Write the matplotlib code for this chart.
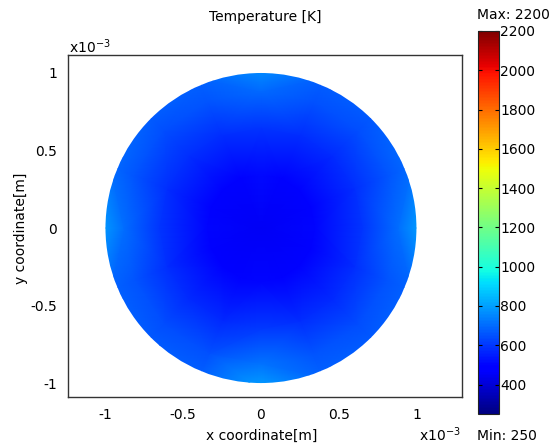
import numpy as np
import matplotlib.pyplot as plt
import matplotlib.tri as mtri
from matplotlib.patches import Circle

plt.rcParams['font.family'] = 'DejaVu Sans'
plt.rcParams['axes.unicode_minus'] = False

# temperature samples [K] on rings of the disk (radius in mm), 16 directions
# counter-clockwise from +x
ring_radius = [0.35, 0.65, 0.88, 1.05]
ring_angle = np.arange(16) * 22.5
T_center = 450
T_rings = [
    [505, 500, 495, 500, 510, 500, 495, 500, 505, 495, 490, 495, 505, 495, 495, 500],
    [595, 585, 575, 580, 595, 585, 580, 585, 595, 580, 570, 575, 605, 580, 575, 585],
    [705, 660, 640, 650, 695, 655, 645, 660, 705, 655, 640, 650, 715, 655, 640, 660],
    [820, 700, 670, 680, 780, 690, 680, 700, 810, 690, 670, 680, 810, 690, 670, 690],
]
T_min, T_max = 250, 2200
cbar_ticks = [400, 600, 800, 1000, 1200, 1400, 1600, 1800, 2000, 2200]
xticks = [-1, -0.5, 0, 0.5, 1]
yticks = [-1, -0.5, 0, 0.5, 1]

# build mesh nodes
px, py, pT = [0.0], [0.0], [T_center]
th = np.deg2rad(ring_angle)
for r, vals in zip(ring_radius, T_rings):
    px.extend(r * np.cos(th))
    py.extend(r * np.sin(th))
    pT.extend(vals)
tri = mtri.Triangulation(px, py)

W, H = 559, 447
FS = 10
fig = plt.figure(figsize=(W / 100, H / 100), dpi=100)
ax = fig.add_axes([68 / W, 1 - 397 / H, 394 / W, 342 / H])
tp = ax.tripcolor(tri, pT, shading='gouraud', cmap='jet', vmin=T_min, vmax=T_max)
disk = Circle((0, 0), 1.0, transform=ax.transData)
tp.set_clip_path(disk)
ax.set_xlim(-1.241, 1.293)
ax.set_ylim(-1.090, 1.116)
ax.set_xticks(xticks)
ax.set_xticklabels(['%g' % v for v in xticks])
ax.set_yticks(yticks)
ax.set_yticklabels(['%g' % v for v in yticks])
ax.tick_params(length=0, labelsize=FS, pad=8)
for s in ax.spines.values():
    s.set_color('#333333')
    s.set_linewidth(1.0)

cax = fig.add_axes([478 / W, 1 - 414 / H, 21 / W, 383 / H])
cb = fig.colorbar(tp, cax=cax, ticks=cbar_ticks)
cb.outline.set_color('#222222')
cb.outline.set_linewidth(0.8)
cax.tick_params(labelsize=FS, length=3, direction='in', pad=1, left=True, right=True)

def ftext(x, y, s, **kw):
    fig.text(x / W, 1 - y / H, s, fontsize=FS, **kw)

ftext(265, 17, 'Temperature [K]', ha='center', va='center')
ftext(262, 436, 'x coordinate[m]', ha='center', va='center')
ftext(21, 228, 'y coordinate[m]', ha='center', va='center', rotation=90)
ftext(69, 47, r'x10$^{-3}$', ha='left', va='center')
ftext(419, 435, r'x10$^{-3}$', ha='left', va='center')
ftext(477, 15, 'Max: 2200', ha='left', va='center')
ftext(477, 436, 'Min: 250', ha='left', va='center')

fig.savefig('out.png', dpi=100)
